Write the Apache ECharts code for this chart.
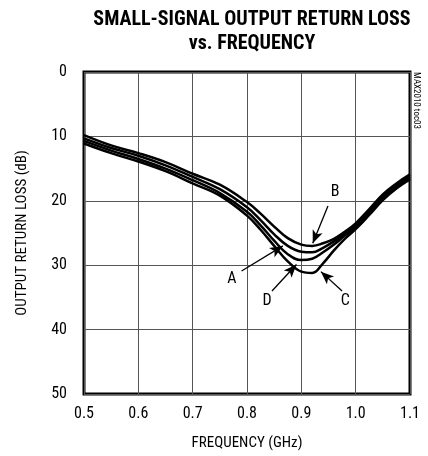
<!DOCTYPE html>
<html>
<head>
<meta charset="utf-8">
<script src="https://cdn.jsdelivr.net/npm/echarts@6/dist/echarts.min.js"></script>
<style>
  html, body { margin: 0; padding: 0; background: #fff; }
  #chart { width: 428px; height: 456px; }
</style>
</head>
<body>
<div id="chart"></div>
<script>
// frequency points (GHz)
const freq = [0.5, 0.55, 0.6, 0.65, 0.7, 0.75, 0.8, 0.825, 0.85, 0.875, 0.9, 0.92, 0.94, 0.96, 0.98, 1.0, 1.025, 1.05, 1.075, 1.1]
// output return loss (dB) for each curve
const lossB = [9.8, 11.4, 12.6, 14.0, 15.8, 17.5, 20.2, 22.0, 24.0, 25.8, 26.8, 27.0, 26.6, 25.9, 24.8, 23.5, 21.3, 19.0, 17.3, 15.9]
const lossA = [10.3, 11.8, 13.0, 14.5, 16.3, 18.2, 21.0, 23.0, 25.2, 27.0, 27.9, 28.0, 27.3, 26.3, 25.1, 23.8, 21.6, 19.3, 17.6, 16.2]
const lossD = [10.7, 12.2, 13.5, 15.0, 16.8, 18.8, 21.7, 23.8, 26.2, 28.3, 29.2, 29.0, 28.0, 26.8, 25.4, 24.1, 21.9, 19.6, 17.9, 16.5]
const lossC = [11.1, 12.6, 13.9, 15.4, 17.3, 19.2, 22.3, 24.5, 27.0, 29.4, 31.0, 31.2, 29.7, 27.7, 25.9, 24.4, 22.2, 19.9, 18.1, 16.7]
const yTicks = [0, 10, 20, 30, 40, 50]
const xTicks = [0.5, 0.6, 0.7, 0.8, 0.9, 1.0, 1.1]

// curve labels: [name, labelX, labelY, fromX, fromY, toX, toY]
const callouts = [
  ['B', 0.962, 18.7, 0.949, 20.8, 0.921, 26.6],
  ['A', 0.772, 32.2, 0.790, 30.9, 0.866, 27.0],
  ['D', 0.837, 35.6, 0.846, 34.0, 0.891, 29.9],
  ['C', 0.981, 35.6, 0.975, 34.0, 0.936, 31.0]
]

const font = '"Liberation Sans Narrow", "Roboto Condensed", Roboto, sans-serif'

function pairs(ys) {
  return freq.map(function(f, i) { return [f, ys[i]] })
}

function curve(name, ys) {
  return {
    name: name,
    type: 'line',
    smooth: 0.4,
    symbol: 'none',
    lineStyle: { color: '#000', width: 2.5 },
    data: pairs(ys),
    z: 3
  }
}

const chart = echarts.init(document.getElementById('chart'))

const series = [
  curve('A', lossA),
  curve('B', lossB),
  curve('C', lossC),
  curve('D', lossD)
]

// callout arrows and letters
series.push({
  type: 'line',
  data: [],
  silent: true,
  markLine: {
    silent: true,
    animation: false,
    lineStyle: { color: '#000', width: 1.3, type: 'solid' },
    label: { show: false },
    data: callouts.map(function(c) {
      return [
        { coord: [c[3], c[4]], symbol: 'none' },
        { coord: [c[5], c[6]], symbol: 'arrow', symbolSize: [8, 13] }
      ]
    })
  },
  markPoint: {
    silent: true,
    animation: false,
    symbol: 'rect',
    symbolSize: 1,
    itemStyle: { color: 'rgba(0,0,0,0)' },
    label: {
      show: true,
      color: '#000',
      fontFamily: font,
      fontSize: 16,
      formatter: function(p) { return p.name }
    },
    data: callouts.map(function(c) {
      return { name: c[0], coord: [c[1], c[2]] }
    })
  }
})

chart.setOption({
  animation: false,
  title: {
    text: 'SMALL-SIGNAL OUTPUT RETURN LOSS\nvs. FREQUENCY',
    left: 247,
    top: 3,
    textAlign: 'center',
    textStyle: {
      fontFamily: font,
      fontWeight: 'bold',
      fontSize: 20,
      lineHeight: 24,
      color: '#000'
    }
  },
  graphic: [{
    type: 'text',
    left: 412,
    top: 72,
    rotation: -Math.PI / 2,
    style: {
      text: 'MAX2010 toc03',
      fontFamily: font,
      fontSize: 9,
      fill: '#000'
    }
  }],
  grid: {
    show: true,
    left: 84,
    right: 18,
    top: 72,
    bottom: 60,
    borderColor: '#000',
    borderWidth: 3,
    backgroundColor: '#fff'
  },
  xAxis: {
    type: 'value',
    min: xTicks[0],
    max: xTicks[xTicks.length - 1],
    interval: 0.1,
    name: 'FREQUENCY (GHz)',
    nameLocation: 'middle',
    nameGap: 42,
    nameTextStyle: { fontFamily: font, fontSize: 15, color: '#000' },
    axisLine: { show: false },
    axisTick: { show: false },
    axisLabel: {
      margin: 12,
      fontFamily: font,
      fontSize: 16,
      color: '#000',
      formatter: function(v) { return v.toFixed(1) }
    },
    splitLine: { show: true, lineStyle: { color: '#555', width: 1 } }
  },
  yAxis: {
    type: 'value',
    inverse: true,
    min: yTicks[0],
    max: yTicks[yTicks.length - 1],
    interval: 10,
    name: 'OUTPUT RETURN LOSS (dB)',
    nameLocation: 'middle',
    nameGap: 54,
    nameTextStyle: { fontFamily: font, fontSize: 15, color: '#000' },
    axisLine: { show: false },
    axisTick: { show: false },
    axisLabel: {
      margin: 17,
      fontFamily: font,
      fontSize: 16,
      color: '#000'
    },
    splitLine: { show: true, lineStyle: { color: '#555', width: 1 } }
  },
  series: series
})
</script>
</body>
</html>
